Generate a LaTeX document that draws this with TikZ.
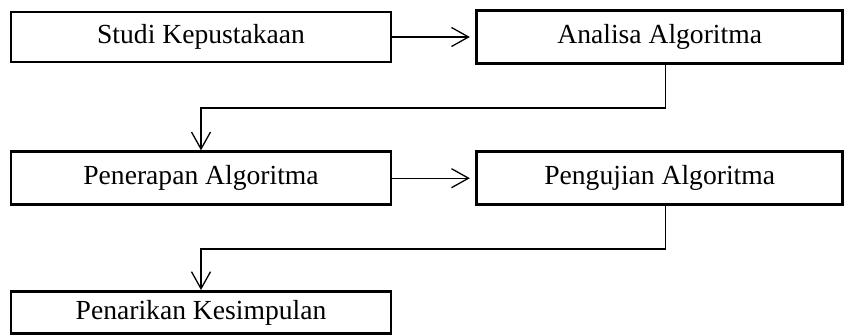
\documentclass[tikz,border=0pt]{standalone}
\usepackage{fontspec}
\setmainfont{Liberation Serif}
\usetikzlibrary{positioning}
\usetikzlibrary{arrows.meta, calc}

\begin{document}
\begin{tikzpicture}
  [
    x=1pt, y=-1pt,
    every node/.style={font=\fontsize{27.6}{33}\selectfont},
    align=center
  ]
      \tikzset{
        >={Straight Barb[length=17pt,width=19pt]},
        base/.style = {rectangle, draw=black, line width=2.7pt,
                       text centered},
        leftblock/.style = {base, minimum width=380pt},
        rightblock/.style = {base, minimum width=366pt},
        connstyle/.style = {->, line width=1.3pt},
    }
    \useasboundingbox (0,0) rectangle (845,335);

    \node (studi) [leftblock, minimum height=50pt] at (201,37) {Studi Kepustakaan};
    \node (analisa) [rightblock, minimum height=53pt, right=83pt of studi] {Analisa Algoritma};

    \node (penerapan) [leftblock, minimum height=53pt, below=87pt of studi] {Penerapan Algoritma};
    \node (pengujian) [rightblock, minimum height=53pt, right=83pt of penerapan] {Pengujian Algoritma};

    \node (penarikan) [leftblock, minimum height=42pt, below=84pt of penerapan] {Penarikan Kesimpulan};

    \draw[connstyle, shorten >=5.5pt] (studi) -- (analisa);
    \draw[connstyle] ([xshift=6pt]analisa.south) -- ++(0,43) -| (penerapan.north);
    \draw[connstyle, shorten >=5.5pt] (penerapan) -- (pengujian);
    \draw[connstyle] ([xshift=6pt]pengujian.south) -- ++(0,43) -| (penarikan.north);
\end{tikzpicture}
\end{document}
